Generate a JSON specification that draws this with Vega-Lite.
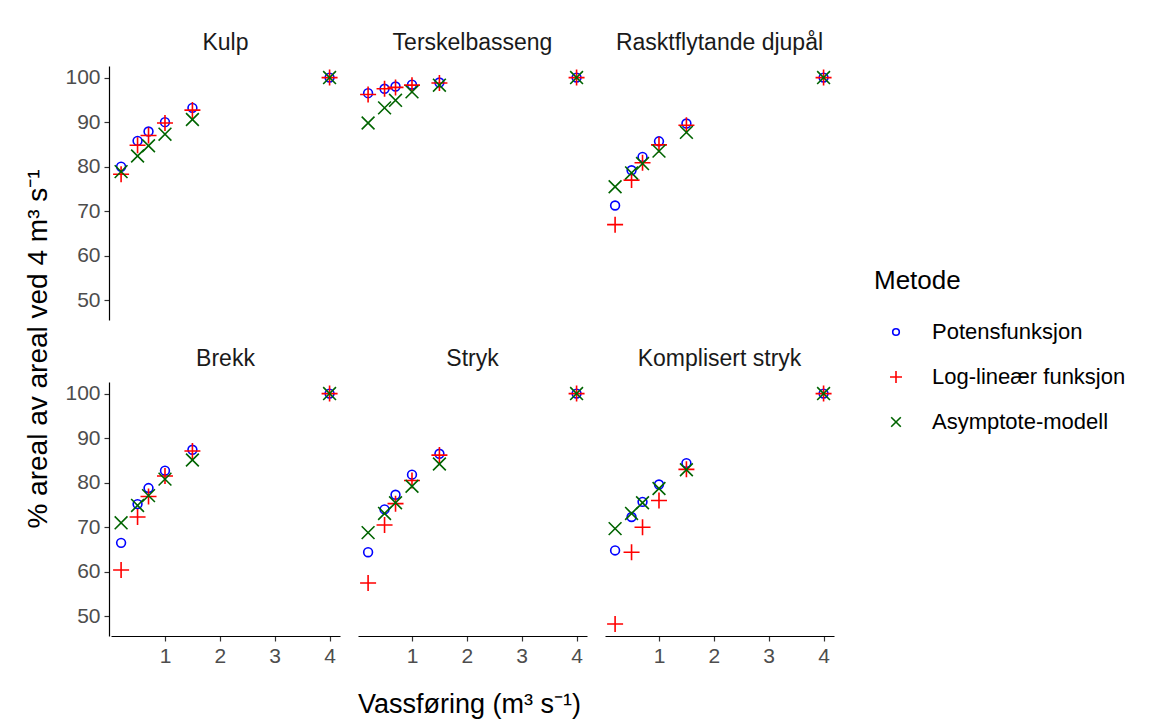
{
  "$schema": "https://vega.github.io/schema/vega-lite/v6.json",
  "background": "white",
  "padding": {"left": 24, "top": 32, "right": 5, "bottom": 5},
  "config": {
    "font": "Liberation Sans",
    "view": {"stroke": null},
    "axis": {
      "grid": false,
      "domainColor": "#000000",
      "domainWidth": 1.2,
      "tickColor": "#333333",
      "tickWidth": 1.2,
      "tickSize": 5,
      "labelFontSize": 21,
      "labelColor": "#4d4d4d",
      "labelPadding": 4
    },
    "header": {
      "labelFontSize": 23,
      "labelColor": "#1a1a1a",
      "labelBaseline": "middle",
      "labelPadding": 0
    }
  },
  "title": {
    "text": "Vassføring (m³ s⁻¹)",
    "orient": "bottom",
    "anchor": "middle",
    "fontSize": 27,
    "fontWeight": "normal",
    "color": "#000000",
    "offset": 26,
    "dx": -106
  },
  "vconcat": [
    {
      "title": {
        "text": "% areal av areal ved 4 m³ s⁻¹",
        "orient": "left",
        "anchor": "middle",
        "fontSize": 28,
        "fontWeight": "normal",
        "color": "#000000",
        "offset": 12
      },
      "data": {
        "values": [
          {"Panel": "Kulp", "Q": 0.2, "Metode": "Potensfunksjon", "Verdi": 80.0},
          {"Panel": "Kulp", "Q": 0.5, "Metode": "Potensfunksjon", "Verdi": 85.8},
          {"Panel": "Kulp", "Q": 0.7, "Metode": "Potensfunksjon", "Verdi": 87.9},
          {"Panel": "Kulp", "Q": 1.0, "Metode": "Potensfunksjon", "Verdi": 90.0},
          {"Panel": "Kulp", "Q": 1.5, "Metode": "Potensfunksjon", "Verdi": 93.2},
          {"Panel": "Kulp", "Q": 4.0, "Metode": "Potensfunksjon", "Verdi": 100},
          {"Panel": "Terskelbasseng", "Q": 0.2, "Metode": "Potensfunksjon", "Verdi": 96.5},
          {"Panel": "Terskelbasseng", "Q": 0.5, "Metode": "Potensfunksjon", "Verdi": 97.5},
          {"Panel": "Terskelbasseng", "Q": 0.7, "Metode": "Potensfunksjon", "Verdi": 98.0},
          {"Panel": "Terskelbasseng", "Q": 1.0, "Metode": "Potensfunksjon", "Verdi": 98.4},
          {"Panel": "Terskelbasseng", "Q": 1.5, "Metode": "Potensfunksjon", "Verdi": 98.9},
          {"Panel": "Terskelbasseng", "Q": 4.0, "Metode": "Potensfunksjon", "Verdi": 100},
          {"Panel": "Rasktflytande djupål", "Q": 0.2, "Metode": "Potensfunksjon", "Verdi": 71.3},
          {"Panel": "Rasktflytande djupål", "Q": 0.5, "Metode": "Potensfunksjon", "Verdi": 79.2},
          {"Panel": "Rasktflytande djupål", "Q": 0.7, "Metode": "Potensfunksjon", "Verdi": 82.2},
          {"Panel": "Rasktflytande djupål", "Q": 1.0, "Metode": "Potensfunksjon", "Verdi": 85.7},
          {"Panel": "Rasktflytande djupål", "Q": 1.5, "Metode": "Potensfunksjon", "Verdi": 89.7},
          {"Panel": "Rasktflytande djupål", "Q": 4.0, "Metode": "Potensfunksjon", "Verdi": 100},
          {"Panel": "Brekk", "Q": 0.2, "Metode": "Potensfunksjon", "Verdi": 66.5},
          {"Panel": "Brekk", "Q": 0.5, "Metode": "Potensfunksjon", "Verdi": 75.2},
          {"Panel": "Brekk", "Q": 0.7, "Metode": "Potensfunksjon", "Verdi": 78.8},
          {"Panel": "Brekk", "Q": 1.0, "Metode": "Potensfunksjon", "Verdi": 82.7},
          {"Panel": "Brekk", "Q": 1.5, "Metode": "Potensfunksjon", "Verdi": 87.4},
          {"Panel": "Brekk", "Q": 4.0, "Metode": "Potensfunksjon", "Verdi": 100},
          {"Panel": "Stryk", "Q": 0.2, "Metode": "Potensfunksjon", "Verdi": 64.4},
          {"Panel": "Stryk", "Q": 0.5, "Metode": "Potensfunksjon", "Verdi": 74.0},
          {"Panel": "Stryk", "Q": 0.7, "Metode": "Potensfunksjon", "Verdi": 77.3},
          {"Panel": "Stryk", "Q": 1.0, "Metode": "Potensfunksjon", "Verdi": 81.8},
          {"Panel": "Stryk", "Q": 1.5, "Metode": "Potensfunksjon", "Verdi": 86.5},
          {"Panel": "Stryk", "Q": 4.0, "Metode": "Potensfunksjon", "Verdi": 100},
          {"Panel": "Komplisert stryk", "Q": 0.2, "Metode": "Potensfunksjon", "Verdi": 64.8},
          {"Panel": "Komplisert stryk", "Q": 0.5, "Metode": "Potensfunksjon", "Verdi": 72.3},
          {"Panel": "Komplisert stryk", "Q": 0.7, "Metode": "Potensfunksjon", "Verdi": 75.7},
          {"Panel": "Komplisert stryk", "Q": 1.0, "Metode": "Potensfunksjon", "Verdi": 79.6},
          {"Panel": "Komplisert stryk", "Q": 1.5, "Metode": "Potensfunksjon", "Verdi": 84.4},
          {"Panel": "Komplisert stryk", "Q": 4.0, "Metode": "Potensfunksjon", "Verdi": 100},

          {"Panel": "Kulp", "Q": 0.2, "Metode": "Log-lineær funksjon", "Verdi": 78.3},
          {"Panel": "Kulp", "Q": 0.5, "Metode": "Log-lineær funksjon", "Verdi": 84.8},
          {"Panel": "Kulp", "Q": 0.7, "Metode": "Log-lineær funksjon", "Verdi": 87.0},
          {"Panel": "Kulp", "Q": 1.0, "Metode": "Log-lineær funksjon", "Verdi": 89.8},
          {"Panel": "Kulp", "Q": 1.5, "Metode": "Log-lineær funksjon", "Verdi": 92.7},
          {"Panel": "Kulp", "Q": 4.0, "Metode": "Log-lineær funksjon", "Verdi": 100},
          {"Panel": "Terskelbasseng", "Q": 0.2, "Metode": "Log-lineær funksjon", "Verdi": 96.2},
          {"Panel": "Terskelbasseng", "Q": 0.5, "Metode": "Log-lineær funksjon", "Verdi": 97.5},
          {"Panel": "Terskelbasseng", "Q": 0.7, "Metode": "Log-lineær funksjon", "Verdi": 97.8},
          {"Panel": "Terskelbasseng", "Q": 1.0, "Metode": "Log-lineær funksjon", "Verdi": 98.3},
          {"Panel": "Terskelbasseng", "Q": 1.5, "Metode": "Log-lineær funksjon", "Verdi": 98.8},
          {"Panel": "Terskelbasseng", "Q": 4.0, "Metode": "Log-lineær funksjon", "Verdi": 100},
          {"Panel": "Rasktflytande djupål", "Q": 0.2, "Metode": "Log-lineær funksjon", "Verdi": 67.0},
          {"Panel": "Rasktflytande djupål", "Q": 0.5, "Metode": "Log-lineær funksjon", "Verdi": 77.0},
          {"Panel": "Rasktflytande djupål", "Q": 0.7, "Metode": "Log-lineær funksjon", "Verdi": 80.9},
          {"Panel": "Rasktflytande djupål", "Q": 1.0, "Metode": "Log-lineær funksjon", "Verdi": 84.9},
          {"Panel": "Rasktflytande djupål", "Q": 1.5, "Metode": "Log-lineær funksjon", "Verdi": 89.3},
          {"Panel": "Rasktflytande djupål", "Q": 4.0, "Metode": "Log-lineær funksjon", "Verdi": 100},
          {"Panel": "Brekk", "Q": 0.2, "Metode": "Log-lineær funksjon", "Verdi": 60.4},
          {"Panel": "Brekk", "Q": 0.5, "Metode": "Log-lineær funksjon", "Verdi": 72.3},
          {"Panel": "Brekk", "Q": 0.7, "Metode": "Log-lineær funksjon", "Verdi": 76.9},
          {"Panel": "Brekk", "Q": 1.0, "Metode": "Log-lineær funksjon", "Verdi": 81.5},
          {"Panel": "Brekk", "Q": 1.5, "Metode": "Log-lineær funksjon", "Verdi": 87.1},
          {"Panel": "Brekk", "Q": 4.0, "Metode": "Log-lineær funksjon", "Verdi": 100},
          {"Panel": "Stryk", "Q": 0.2, "Metode": "Log-lineær funksjon", "Verdi": 57.5},
          {"Panel": "Stryk", "Q": 0.5, "Metode": "Log-lineær funksjon", "Verdi": 70.5},
          {"Panel": "Stryk", "Q": 0.7, "Metode": "Log-lineær funksjon", "Verdi": 75.3},
          {"Panel": "Stryk", "Q": 1.0, "Metode": "Log-lineær funksjon", "Verdi": 80.5},
          {"Panel": "Stryk", "Q": 1.5, "Metode": "Log-lineær funksjon", "Verdi": 86.2},
          {"Panel": "Stryk", "Q": 4.0, "Metode": "Log-lineær funksjon", "Verdi": 100},
          {"Panel": "Komplisert stryk", "Q": 0.2, "Metode": "Log-lineær funksjon", "Verdi": 48.3},
          {"Panel": "Komplisert stryk", "Q": 0.5, "Metode": "Log-lineær funksjon", "Verdi": 64.4},
          {"Panel": "Komplisert stryk", "Q": 0.7, "Metode": "Log-lineær funksjon", "Verdi": 70.0},
          {"Panel": "Komplisert stryk", "Q": 1.0, "Metode": "Log-lineær funksjon", "Verdi": 76.0},
          {"Panel": "Komplisert stryk", "Q": 1.5, "Metode": "Log-lineær funksjon", "Verdi": 83.0},
          {"Panel": "Komplisert stryk", "Q": 4.0, "Metode": "Log-lineær funksjon", "Verdi": 100},

          {"Panel": "Kulp", "Q": 0.2, "Metode": "Asymptote-modell", "Verdi": 78.9},
          {"Panel": "Kulp", "Q": 0.5, "Metode": "Asymptote-modell", "Verdi": 82.4},
          {"Panel": "Kulp", "Q": 0.7, "Metode": "Asymptote-modell", "Verdi": 84.7},
          {"Panel": "Kulp", "Q": 1.0, "Metode": "Asymptote-modell", "Verdi": 87.3},
          {"Panel": "Kulp", "Q": 1.5, "Metode": "Asymptote-modell", "Verdi": 90.6},
          {"Panel": "Kulp", "Q": 4.0, "Metode": "Asymptote-modell", "Verdi": 100},
          {"Panel": "Terskelbasseng", "Q": 0.2, "Metode": "Asymptote-modell", "Verdi": 89.8},
          {"Panel": "Terskelbasseng", "Q": 0.5, "Metode": "Asymptote-modell", "Verdi": 93.2},
          {"Panel": "Terskelbasseng", "Q": 0.7, "Metode": "Asymptote-modell", "Verdi": 94.9},
          {"Panel": "Terskelbasseng", "Q": 1.0, "Metode": "Asymptote-modell", "Verdi": 96.8},
          {"Panel": "Terskelbasseng", "Q": 1.5, "Metode": "Asymptote-modell", "Verdi": 98.3},
          {"Panel": "Terskelbasseng", "Q": 4.0, "Metode": "Asymptote-modell", "Verdi": 100},
          {"Panel": "Rasktflytande djupål", "Q": 0.2, "Metode": "Asymptote-modell", "Verdi": 75.5},
          {"Panel": "Rasktflytande djupål", "Q": 0.5, "Metode": "Asymptote-modell", "Verdi": 78.6},
          {"Panel": "Rasktflytande djupål", "Q": 0.7, "Metode": "Asymptote-modell", "Verdi": 80.7},
          {"Panel": "Rasktflytande djupål", "Q": 1.0, "Metode": "Asymptote-modell", "Verdi": 83.5},
          {"Panel": "Rasktflytande djupål", "Q": 1.5, "Metode": "Asymptote-modell", "Verdi": 87.7},
          {"Panel": "Rasktflytande djupål", "Q": 4.0, "Metode": "Asymptote-modell", "Verdi": 100},
          {"Panel": "Brekk", "Q": 0.2, "Metode": "Asymptote-modell", "Verdi": 71.0},
          {"Panel": "Brekk", "Q": 0.5, "Metode": "Asymptote-modell", "Verdi": 74.9},
          {"Panel": "Brekk", "Q": 0.7, "Metode": "Asymptote-modell", "Verdi": 77.1},
          {"Panel": "Brekk", "Q": 1.0, "Metode": "Asymptote-modell", "Verdi": 80.8},
          {"Panel": "Brekk", "Q": 1.5, "Metode": "Asymptote-modell", "Verdi": 85.1},
          {"Panel": "Brekk", "Q": 4.0, "Metode": "Asymptote-modell", "Verdi": 100},
          {"Panel": "Stryk", "Q": 0.2, "Metode": "Asymptote-modell", "Verdi": 68.8},
          {"Panel": "Stryk", "Q": 0.5, "Metode": "Asymptote-modell", "Verdi": 73.1},
          {"Panel": "Stryk", "Q": 0.7, "Metode": "Asymptote-modell", "Verdi": 75.5},
          {"Panel": "Stryk", "Q": 1.0, "Metode": "Asymptote-modell", "Verdi": 79.2},
          {"Panel": "Stryk", "Q": 1.5, "Metode": "Asymptote-modell", "Verdi": 84.2},
          {"Panel": "Stryk", "Q": 4.0, "Metode": "Asymptote-modell", "Verdi": 100},
          {"Panel": "Komplisert stryk", "Q": 0.2, "Metode": "Asymptote-modell", "Verdi": 69.7},
          {"Panel": "Komplisert stryk", "Q": 0.5, "Metode": "Asymptote-modell", "Verdi": 73.1},
          {"Panel": "Komplisert stryk", "Q": 0.7, "Metode": "Asymptote-modell", "Verdi": 75.5},
          {"Panel": "Komplisert stryk", "Q": 1.0, "Metode": "Asymptote-modell", "Verdi": 78.7},
          {"Panel": "Komplisert stryk", "Q": 1.5, "Metode": "Asymptote-modell", "Verdi": 82.9},
          {"Panel": "Komplisert stryk", "Q": 4.0, "Metode": "Asymptote-modell", "Verdi": 100}
        ]
      },
      "columns": 3,
      "spacing": {"row": 28, "column": 15},
      "facet": {
        "field": "Panel",
        "type": "nominal",
        "sort": ["Kulp", "Terskelbasseng", "Rasktflytande djupål", "Brekk", "Stryk", "Komplisert stryk"],
        "title": null
      },
      "spec": {
        "width": 229,
        "height": 254,
        "mark": {"type": "point", "filled": false, "strokeWidth": 1.6, "opacity": 1, "size": 256},
        "encoding": {
          "x": {
            "field": "Q",
            "type": "quantitative",
            "scale": {"domain": [0.016, 4.19], "nice": false, "zero": false},
            "axis": {"values": [1, 2, 3, 4], "title": null}
          },
          "y": {
            "field": "Verdi",
            "type": "quantitative",
            "scale": {"domain": [45.6, 102.6], "nice": false, "zero": false},
            "axis": {"values": [50, 60, 70, 80, 90, 100], "title": null}
          },
          "color": {
            "field": "Metode",
            "type": "nominal",
            "scale": {
              "domain": ["Potensfunksjon", "Log-lineær funksjon", "Asymptote-modell"],
              "range": ["#0000FF", "#FF0000", "#006400"]
            },
            "legend": {
              "title": "Metode",
              "orient": "none",
              "legendX": 763,
              "legendY": 202,
              "titleFontSize": 26,
              "titleFontWeight": "normal",
              "titleColor": "#000000",
              "titlePadding": 27,
              "labelFontSize": 22,
              "labelColor": "#000000",
              "labelLimit": 400,
              "labelOffset": 25,
              "rowPadding": 23,
              "symbolOffset": 11,
              "symbolSize": 144,
              "symbolStrokeWidth": 1.6
            }
          },
          "shape": {
            "field": "Metode",
            "type": "nominal",
            "scale": {
              "domain": ["Potensfunksjon", "Log-lineær funksjon", "Asymptote-modell"],
              "range": [
                "M0.55,0A0.55,0.55 0 1,1 -0.55,0A0.55,0.55 0 1,1 0.55,0Z",
                "M-1,0L1,0M0,-1L0,1",
                "M-0.8,-0.8L0.8,0.8M-0.8,0.8L0.8,-0.8"
              ]
            }
          }
        }
      }
    }
  ]
}
